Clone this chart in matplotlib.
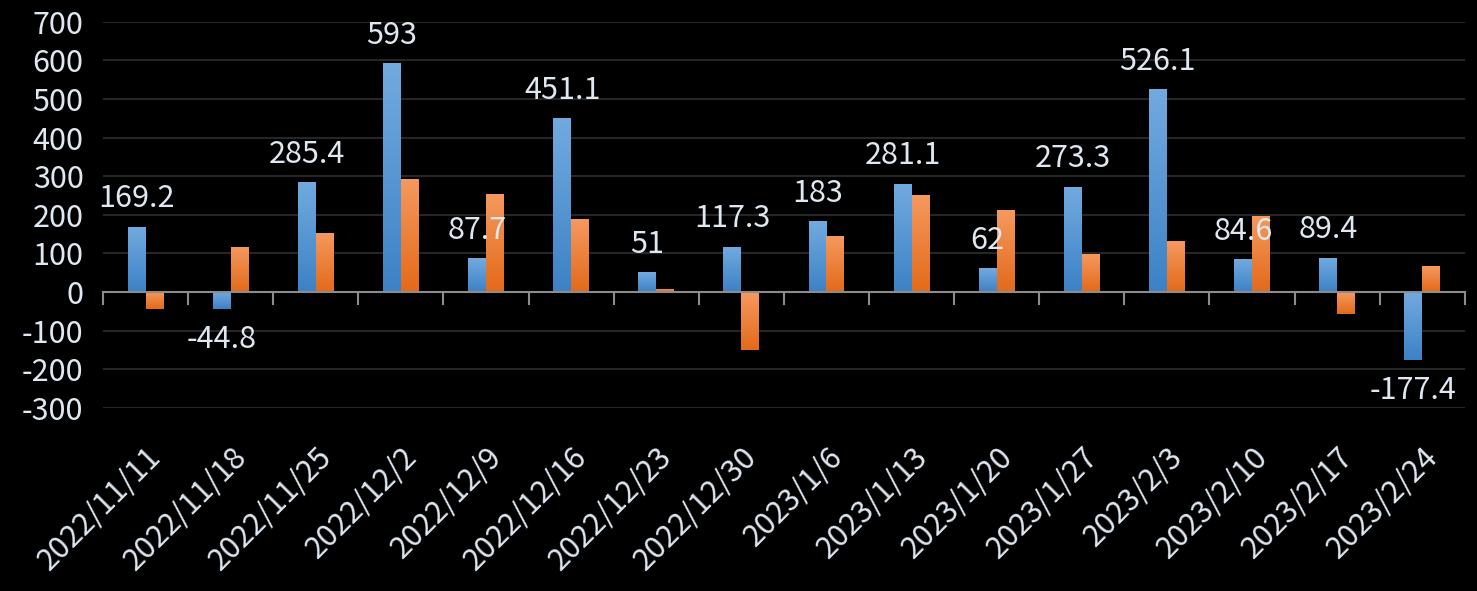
import numpy as np
import matplotlib.pyplot as plt
from matplotlib.colors import LinearSegmentedColormap

plt.rcParams['font.family'] = ['Noto Sans CJK SC', 'DejaVu Sans']
plt.rcParams['axes.unicode_minus'] = False

dates = ['2022/11/11', '2022/11/18', '2022/11/25', '2022/12/2', '2022/12/9',
         '2022/12/16', '2022/12/23', '2022/12/30', '2023/1/6', '2023/1/13',
         '2023/1/20', '2023/1/27', '2023/2/3', '2023/2/10', '2023/2/17', '2023/2/24']
blue_vals = [169.2, -44.8, 285.4, 593, 87.7, 451.1, 51, 117.3, 183, 281.1,
             62, 273.3, 526.1, 84.6, 89.4, -177.4]
orange_vals = [-45, 117, 153, 293, 254, 189, 8, -150, 145, 251,
               212, 98, 132, 197, -57, 67]

txt = '#dfe7f0'
fig = plt.figure(figsize=(14.77, 5.91), dpi=100, facecolor='black')
ax = fig.add_axes([0.0697, 0.310, 0.922, 0.653])
ax.set_facecolor('black')

x = np.arange(len(dates))
w = 0.21
blue_cm = LinearSegmentedColormap.from_list('b', ['#3d82c6', '#72aadf'])
orange_cm = LinearSegmentedColormap.from_list('o', ['#e36a1a', '#f5995f'])
grad = np.linspace(0, 1, 64).reshape(-1, 1)


def grad_bars(bars, cmap):
    for b in bars:
        x0, y0 = b.get_x(), b.get_y()
        bw, bh = b.get_width(), b.get_height()
        lo, hi = min(y0, y0 + bh), max(y0, y0 + bh)
        im = ax.imshow(grad, cmap=cmap, aspect='auto', origin='lower',
                       extent=[x0, x0 + bw, lo, hi], zorder=3)
        im.set_clip_path(b)


b1 = ax.bar(x - w / 2, blue_vals, w, color='#5b9bd5', zorder=2)
b2 = ax.bar(x + w / 2, orange_vals, w, color='#ed7d31', zorder=2)
grad_bars(b1, blue_cm)
grad_bars(b2, orange_cm)

# labels centred ~30px above/below the bar end
for xi, v in zip(x, blue_vals):
    lab = ('%g' % v)
    yy = v + 72 if v >= 0 else v - 78
    ax.text(xi - w / 2, yy, lab, ha='center', va='center', color=txt, fontsize=22, zorder=5)

ax.set_xlim(-0.5, len(dates) - 0.5)
ax.set_ylim(-300, 700)
ax.set_yticks(range(-300, 701, 100))
ax.yaxis.grid(True, color='#262626', linewidth=1.5, zorder=0)
ax.set_axisbelow(True)
ax.axhline(0, color='#8c8c8c', linewidth=1.5, zorder=4)
for xb in np.arange(-0.5, len(dates), 1):
    ax.plot([xb, xb], [0, -30], color='#8c8c8c', linewidth=1.5, zorder=4, clip_on=False)

for s in ax.spines.values():
    s.set_visible(False)
ax.tick_params(axis='y', length=0, colors=txt, labelsize=22, pad=14)
ax.set_xticks(x)
ax.set_xticklabels(dates, rotation=45, ha='right', rotation_mode='anchor', color=txt, fontsize=22)
ax.tick_params(axis='x', length=0, pad=24)

fig.savefig('out.png', facecolor='black')
